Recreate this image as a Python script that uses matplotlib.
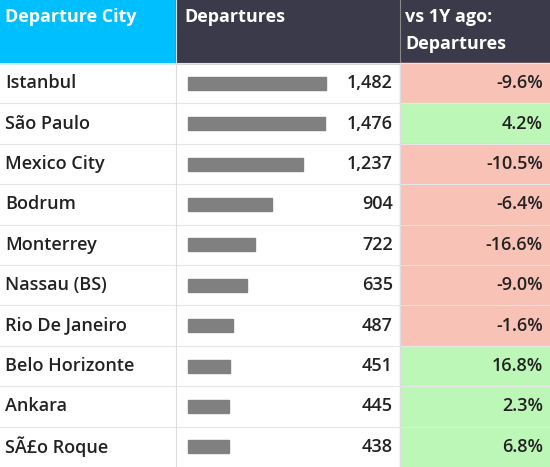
import matplotlib.pyplot as plt
from matplotlib.patches import Rectangle

cities = ["Istanbul","São Paulo","Mexico City","Bodrum","Monterrey","Nassau (BS)",
          "Rio De Janeiro","Belo Horizonte","Ankara","SÃ£o Roque"]
departures = [1482,1476,1237,904,722,635,487,451,445,438]
change = [-9.6,4.2,-10.5,-6.4,-16.6,-9.0,-1.6,16.8,2.3,6.8]

W,H = 550,467
fig = plt.figure(figsize=(5.5,4.67),dpi=100)
ax = fig.add_axes([0,0,1,1]); ax.set_xlim(0,W); ax.set_ylim(H,0); ax.axis('off')
fam = ['Open Sans','DejaVu Sans']
hh = 63; rh = (H-hh)/len(cities)
c1, c2 = 176, 400
ax.add_patch(Rectangle((0,0),c1,hh,color='#00BFFF'))
ax.add_patch(Rectangle((c1,0),W-c1,hh,color='#3b3a4a'))
ax.plot([c2,c2],[0,hh],color='#888',lw=0.8)
fs = 13
ax.text(5,17,"Departure City",color='white',fontsize=fs,weight='bold',va='center',family=fam)
ax.text(184,17,"Departures",color='white',fontsize=fs,weight='bold',va='center',family=fam)
ax.text(405,17,"vs 1Y ago:",color='white',fontsize=fs,weight='bold',va='center',family=fam)
ax.text(405,44,"Departures",color='white',fontsize=fs,weight='bold',va='center',family=fam)
mx = max(departures); bl = 138
for i,(c,d,p) in enumerate(zip(cities,departures,change)):
    y = hh+i*rh
    ax.add_patch(Rectangle((c2,y),W-c2,rh,color='#f9c2b6' if p<0 else '#bdf7b7'))
    ax.plot([0,W],[y,y],color='#e6e6e6',lw=0.8)
    cy = y+rh/2
    ax.text(5,cy,c,fontsize=fs,va='center',color='#222',weight='semibold',family=fam)
    ax.add_patch(Rectangle((188,cy-6.5),bl*d/mx,13,color='#808080'))
    ax.text(393,cy,f"{d:,}",fontsize=fs,va='center',ha='right',color='#222',weight='semibold',family=fam)
    ax.text(543,cy,f"{p:.1f}%",fontsize=fs,va='center',ha='right',color='#222',weight='semibold',family=fam)
ax.plot([c1,c1],[0,H],color='#ddd',lw=0.8)
ax.plot([c2,c2],[hh,H],color='#ddd',lw=0.8)
fig.savefig('out.png',dpi=100)
